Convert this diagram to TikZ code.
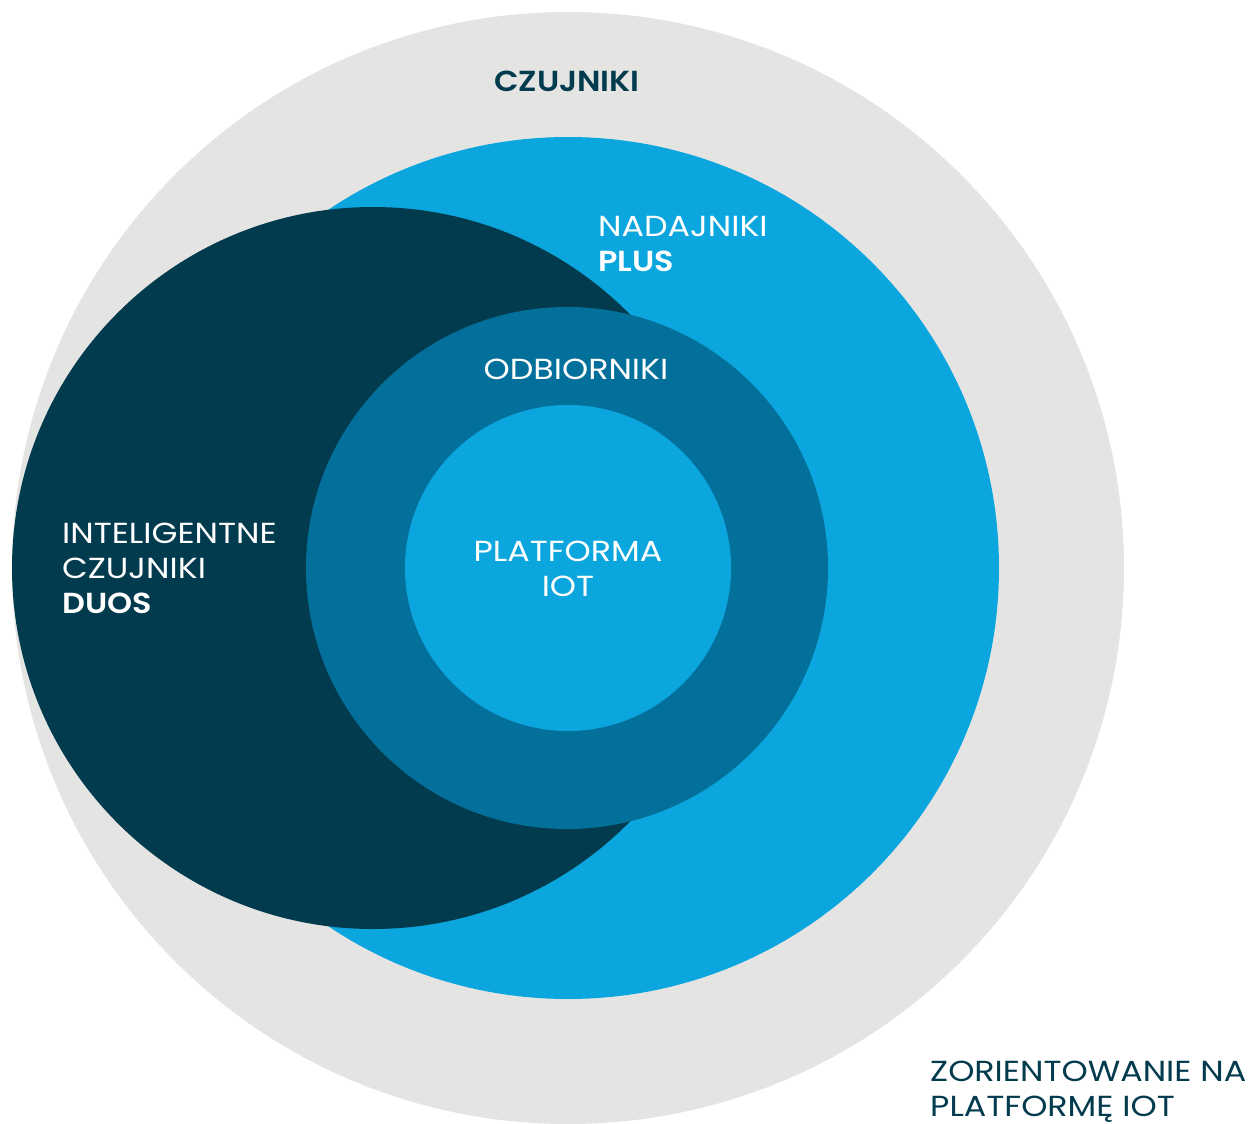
\documentclass[tikz,border=0pt]{standalone}
\usepackage{fontspec}
\setmainfont{Poppins}[FakeStretch=1.15, BoldFont={Poppins SemiBold}, BoldFeatures={FakeStretch=1.1}]
\definecolor{ringgray}{HTML}{E4E4E3}
\definecolor{skyblue}{HTML}{0CA6DF}
\definecolor{deepnavy}{HTML}{023A4E}
\definecolor{midblue}{HTML}{02709A}
\def\lbl{\fontsize{29}{35}\selectfont}

\begin{document}
\begin{tikzpicture}[x=1pt, y=-1pt,
	txt/.style={inner sep=0pt, font=\lbl, align=left},
	txtc/.style={txt, align=center}]
	\useasboundingbox (0,0) rectangle (1253,1124);
	\fill[ringgray] (568,568) circle[radius=556];
	\fill[skyblue] (568,568) circle[radius=431];
	\fill[deepnavy] (373,568) circle[radius=361];
	\fill[midblue] (567,568) circle[radius=261];
	\fill[skyblue] (568,568) circle[radius=163];

	% base anchor sits on the last line
	\node[txtc, text=deepnavy, anchor=base, font=\lbl\bfseries] (czujniki) at (567,92) {CZUJNIKI};
	\node[txt, text=white, anchor=base west] (nadajniki) at (598,271) {NADAJNIKI\\\textbf{PLUS}};
	\node[txtc, text=white, anchor=base] (odbiorniki) at (576,379) {ODBIORNIKI};
	\node[txt, text=white, anchor=base west] (duos) at (62,613) {INTELIGENTNE\\CZUJNIKI\\\textbf{DUOS}};
	\node[txtc, text=white, anchor=base] (platforma) at (568,596) {PLATFORMA\\IOT};
	\node[txt, text=deepnavy, anchor=base west] (iot) at (930,1116) {ZORIENTOWANIE NA\\PLATFORMĘ IOT};
\end{tikzpicture}
\end{document}
